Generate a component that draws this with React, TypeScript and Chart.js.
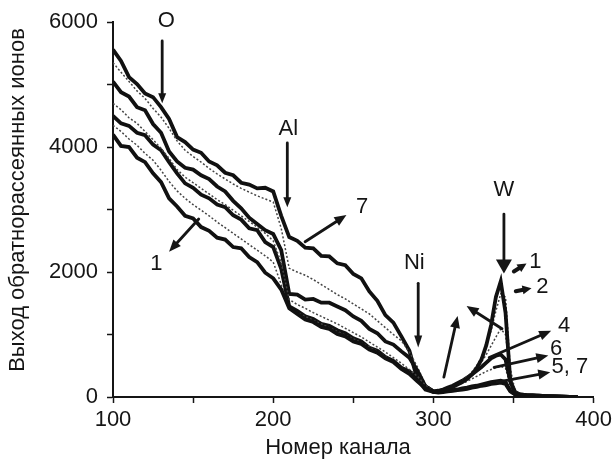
import React, { useEffect, useRef } from "react";
import { Chart, registerables } from "chart.js";

Chart.register(...registerables);

// Channel numbers (x values)
const channels = [
  100, 105, 110, 115, 120, 125, 130, 135, 140, 145, 150, 155, 160, 165, 170, 175, 180, 185, 190, 195,
  200, 205, 210, 215, 220, 225, 230, 235, 240, 245, 250, 255, 260, 265, 270, 275, 280, 285, 290, 295, 300,
  303, 306, 309, 312, 315, 318, 321, 324, 327, 330, 333, 336, 339, 342, 345, 348, 351, 354,
  358, 362, 366, 370, 375, 380, 385, 390,
];

// Backscattered ion yield, spectra 1..7
const s1 = [
  4200, 4020, 4000, 3830, 3760, 3580, 3440, 3180, 3050, 2900, 2860, 2720, 2660, 2550, 2520, 2400, 2380, 2240, 2160, 1990,
  1900, 1720, 1420, 1330, 1240, 1200, 1120, 1090, 1010, 970, 890, 850, 760, 710, 620, 560, 450, 370, 250, 140, 80,
  90, 110, 130, 160, 200, 240, 290, 360, 460, 600, 830, 1150, 1600, 1850, 1350, 250, 60, 40,
  30, 25, 20, 15, 10, 5, 0, 0,
];
const s2 = [
  4350, 4250, 4130, 4030, 3900, 3790, 3630, 3450, 3300, 3180, 3080, 2990, 2900, 2800, 2710, 2620, 2530, 2440, 2350, 2260,
  2160, 1800, 1420, 1350, 1290, 1230, 1170, 1110, 1050, 990, 930, 870, 800, 730, 650, 560, 470, 370, 260, 150, 90,
  90, 110, 140, 170, 210, 260, 320, 400, 500, 640, 830, 1060, 1380, 1650, 1600, 450, 90, 40,
  30, 25, 20, 15, 10, 5, 0, 0,
];
const s3 = [
  4700, 4600, 4470, 4380, 4250, 4120, 3980, 3820, 3640, 3520, 3430, 3340, 3250, 3160, 3080, 2990, 2900, 2810, 2720, 2620,
  2500, 2150, 1560, 1480, 1420, 1350, 1290, 1230, 1170, 1100, 1030, 960, 880, 800, 720, 630, 540, 440, 330, 190, 100,
  90, 110, 140, 170, 210, 260, 320, 390, 470, 560, 680, 820, 960, 1090, 1000, 350, 80, 40,
  30, 25, 20, 15, 10, 5, 0, 0,
];
const s4 = [
  4500, 4380, 4340, 4230, 4190, 4040, 3950, 3760, 3580, 3420, 3350, 3240, 3180, 3080, 3040, 2910, 2840, 2700, 2670, 2480,
  2400, 2050, 1450, 1380, 1290, 1250, 1170, 1140, 1070, 1020, 940, 890, 790, 740, 640, 580, 470, 410, 300, 170, 90,
  100, 120, 150, 180, 220, 260, 310, 360, 420, 480, 550, 620, 660, 680, 600, 250, 80, 40,
  30, 25, 20, 15, 10, 5, 0, 0,
];
const s5 = [
  5050, 4880, 4810, 4640, 4590, 4370, 4230, 3930, 3770, 3670, 3640, 3550, 3490, 3370, 3290, 3140, 3020, 2870, 2770, 2670,
  2610, 2350, 1650, 1640, 1560, 1570, 1510, 1510, 1450, 1390, 1290, 1220, 1090, 1020, 890, 840, 730, 630, 420, 170, 90,
  80, 90, 100, 110, 120, 140, 150, 170, 180, 200, 220, 240, 250, 260, 240, 100, 40, 30,
  25, 20, 15, 10, 10, 5, 0, 0,
];
const s6 = [
  5350, 5200, 5050, 4900, 4780, 4620, 4480, 4300, 4100, 3950, 3850, 3760, 3660, 3570, 3490, 3410, 3340, 3280, 3220, 3170,
  3120, 2700, 2060, 2000, 1950, 1880, 1800, 1720, 1640, 1570, 1490, 1410, 1330, 1220, 1110, 1000, 900, 720, 480, 200, 100,
  90, 110, 130, 160, 190, 220, 250, 290, 330, 370, 410, 440, 470, 490, 460, 180, 60, 40,
  30, 25, 20, 15, 10, 5, 0, 0,
];
const s7 = [
  5560, 5380, 5120, 5010, 4860, 4800, 4640, 4450, 4160, 4080, 3960, 3910, 3770, 3710, 3590, 3550, 3430, 3400, 3340, 3350,
  3290, 2900, 2560, 2500, 2390, 2380, 2260, 2250, 2140, 2110, 1970, 1900, 1690, 1540, 1310, 1190, 970, 740, 280, 120, 80,
  70, 80, 90, 100, 110, 120, 130, 150, 160, 180, 190, 210, 220, 230, 210, 90, 40, 30,
  20, 20, 15, 10, 10, 5, 0, 0,
];

const seriesValues = [s1, s2, s3, s4, s5, s6, s7];
const seriesNames = ["1", "2", "3", "4", "5", "6", "7"];
const seriesThick = [true, false, false, true, true, false, true];

// Axis tick labels
const xTickLabels = [100, 200, 300, 400];
const yTickLabels = [0, 2000, 4000, 6000];

// Annotations (data coordinates)
const annotationLabels: { text: string; at: [number, number] }[] = [
  { text: "O", at: [133.2, 6015] },
  { text: "Al", at: [209.4, 4290] },
  { text: "7", at: [255.5, 3039] },
  { text: "Ni", at: [288.1, 2153] },
  { text: "W", at: [344, 3308] },
  { text: "1", at: [363.7, 2169] },
  { text: "2", at: [368, 1757] },
  { text: "4", at: [381.5, 1140] },
  { text: "6", at: [376.6, 776] },
  { text: "5, 7", at: [385.2, 475] },
  { text: "1", at: [127, 2137] },
];
const annotationArrows: { from: [number, number]; to: [number, number]; head: number; half: number }[] = [
  { from: [130.7, 5699], to: [130.7, 4701], head: 10, half: 4 },
  { from: [208.8, 4068], to: [208.8, 3039], head: 10, half: 4 },
  { from: [219.9, 2485], to: [245.7, 2913], head: 12, half: 5 },
  { from: [290.5, 1820], to: [290.5, 792], head: 12, half: 4 },
  { from: [344, 2929], to: [344, 1979], head: 14, half: 8 },
  { from: [350.2, 2010], to: [358.1, 2137], head: 9, half: 4.5 },
  { from: [351.4, 1694], to: [361.2, 1741], head: 9, half: 4.5 },
  { from: [342.8, 1092], to: [320.7, 1456], head: 12, half: 5 },
  { from: [306.5, 317], to: [315.1, 1298], head: 12, half: 5 },
  { from: [334.8, 633], to: [373.5, 1061], head: 12, half: 5 },
  { from: [337.9, 475], to: [371.7, 665], head: 12, half: 5 },
  { from: [339.7, 237], to: [372.9, 396], head: 12, half: 5 },
  { from: [153.5, 2849], to: [135.0, 2327], head: 12, half: 5 },
];

const FONT = "'Liberation Sans', Arial, sans-serif";
const INK = "#151515";

const annotPlugin = {
  id: "annot",
  afterDatasetsDraw(chart: any) {
    const { ctx, scales } = chart;
    const xs = scales.x;
    const ys = scales.y;
    ctx.save();
    ctx.fillStyle = INK;
    ctx.strokeStyle = INK;
    ctx.lineCap = "round";
    for (const a of annotationArrows) {
      const x1 = xs.getPixelForValue(a.from[0]);
      const y1 = ys.getPixelForValue(a.from[1]);
      const x2 = xs.getPixelForValue(a.to[0]);
      const y2 = ys.getPixelForValue(a.to[1]);
      const len = Math.hypot(x2 - x1, y2 - y1) || 1;
      const dx = (x2 - x1) / len;
      const dy = (y2 - y1) / len;
      const bx = x2 - dx * a.head;
      const by = y2 - dy * a.head;
      ctx.lineWidth = len < 25 ? 4 : 2.8;
      ctx.beginPath();
      ctx.moveTo(x1, y1);
      ctx.lineTo(bx + dx * 2, by + dy * 2);
      ctx.stroke();
      ctx.beginPath();
      ctx.moveTo(x2, y2);
      ctx.lineTo(bx - dy * a.half, by + dx * a.half);
      ctx.lineTo(bx + dy * a.half, by - dx * a.half);
      ctx.closePath();
      ctx.fill();
    }
    ctx.font = `22px ${FONT}`;
    ctx.textAlign = "center";
    ctx.textBaseline = "middle";
    for (const l of annotationLabels) {
      ctx.fillText(l.text, xs.getPixelForValue(l.at[0]), ys.getPixelForValue(l.at[1]));
    }
    // axis titles
    ctx.fillText("Номер канала", 338, 448);
    ctx.translate(18, 200);
    ctx.rotate(-Math.PI / 2);
    ctx.fillText("Выход обратнорассеянных ионов", 0, 0);
    ctx.restore();
  },
};

export default function App() {
  const ref = useRef<HTMLCanvasElement | null>(null);
  useEffect(() => {
    if (!ref.current) return;
    const datasets = seriesValues.map((vals, i) => ({
      label: seriesNames[i],
      data: vals.map((v, j) => ({ x: channels[j], y: v })),
      borderColor: seriesThick[i] ? "#111" : "#444",
      borderWidth: seriesThick[i] ? 3.8 : 1.5,
      borderDash: seriesThick[i] ? [] : [2, 2],
      pointRadius: 0,
      tension: 0,
      fill: false,
    }));
    const chart = new Chart(ref.current, {
      type: "line",
      data: { datasets },
      options: {
        animation: false,
        responsive: false,
        layout: { padding: { top: 18, right: 15, left: 0, bottom: 0 } },
        plugins: { legend: { display: false }, tooltip: { enabled: false } },
        scales: {
          x: {
            type: "linear",
            min: 100,
            max: 400,
            afterFit: (s: any) => {
              s.height = 66;
            },
            ticks: {
              stepSize: 50,
              color: INK,
              padding: 4,
              maxRotation: 0,
              font: { size: 22, family: FONT },
              callback: (v: any) => (xTickLabels.includes(Number(v)) ? String(v) : ""),
            },
            grid: { drawOnChartArea: false, tickLength: 6, color: INK, tickWidth: 1.5 },
            border: { display: true, color: INK, width: 2 },
          },
          y: {
            type: "linear",
            min: 0,
            max: 6000,
            afterFit: (s: any) => {
              s.width = 113;
            },
            ticks: {
              stepSize: 1000,
              color: INK,
              padding: 9,
              font: { size: 22, family: FONT },
              callback: (v: any) => (yTickLabels.includes(Number(v)) ? String(v) : ""),
            },
            grid: { drawOnChartArea: false, tickLength: 6, color: INK, tickWidth: 1.5 },
            border: { display: true, color: INK, width: 2 },
          },
        },
      },
      plugins: [annotPlugin],
    });
    return () => chart.destroy();
  }, []);
  return (
    <div style={{ position: "absolute", left: 0, top: 0, width: 616, height: 463, background: "#fff" }}>
      <canvas ref={ref} width={616} height={463} style={{ display: "block" }} />
    </div>
  );
}
